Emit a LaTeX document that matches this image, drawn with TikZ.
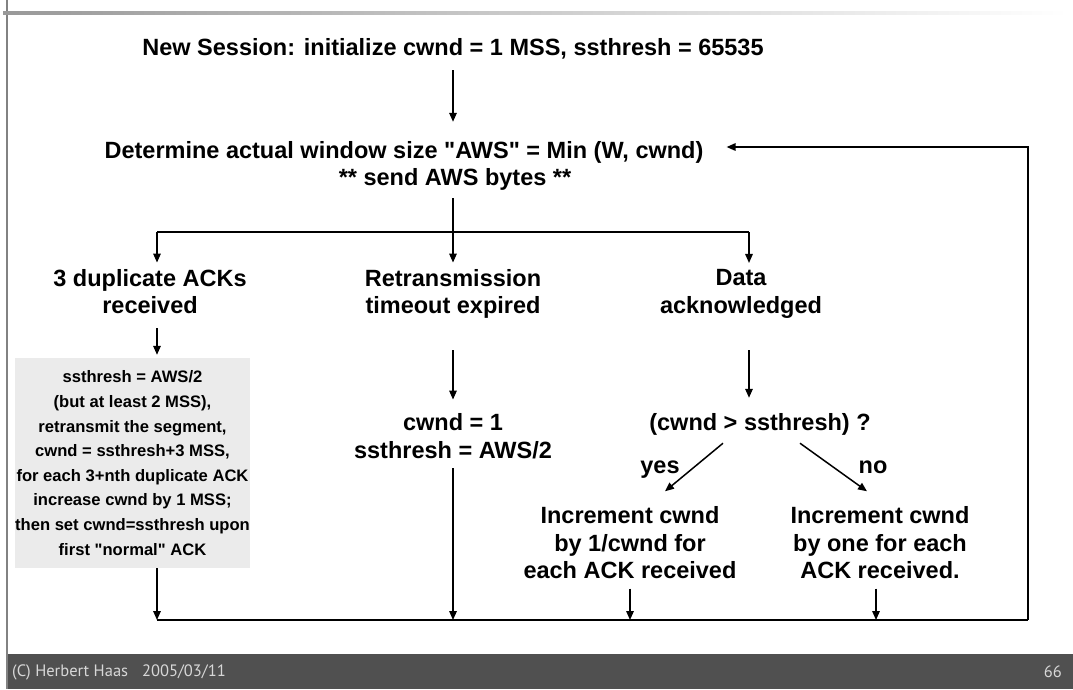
\documentclass[tikz,border=0pt]{standalone}
\usepackage{fontspec}
\newfontfamily\mainsans{Liberation Sans}
\newfontfamily\footsans{PT Sans}
\usetikzlibrary{arrows.meta}
\definecolor{boxgray}{RGB}{235,235,235}
\definecolor{footbar}{RGB}{80,80,80}
\definecolor{foottext}{RGB}{215,215,215}
\definecolor{rulegray}{RGB}{130,130,130}
\begin{document}
\begin{tikzpicture}[x=1pt,y=-1pt,
  line/.style={draw=black,line width=1.5pt},
  flow/.style={line,-{Triangle[length=9pt,width=7.5pt]}},
  lbl/.style={font=\mainsans\bfseries\fontsize{23.5}{27.5}\selectfont,align=center,inner sep=0pt,
    execute at begin node={\rule{0pt}{17pt}},execute at end node={\rule[-5pt]{0pt}{5pt}}},
  boxtxt/.style={fill=boxgray,font=\mainsans\bfseries\fontsize{16.6}{24.6}\selectfont,align=center,
    inner sep=0pt,minimum width=235pt,minimum height=210pt},
  foot/.style={font=\footsans\fontsize{16.5}{18}\selectfont,text=foottext,inner sep=0pt}]
\useasboundingbox (0,0) rectangle (1073,689);
\fill[white] (0,0) rectangle (1073,689);

% slide frame: left rule, title gradient bar, footer bar
\draw[rulegray,line width=1.2pt] (7,0) -- (7,689);
\shade[left color=black!40,right color=white] (3,11) rectangle (1068,14.5);
\fill[footbar] (8,654) rectangle (1073,689);
\node[foot,anchor=west] (author) at (12,672) {(C) Herbert Haas\hspace{14pt}2005/03/11};
\node[foot,anchor=east] (page) at (1062,672) {66};

% start and window computation
\node[lbl] (start) at (453,49.4) {New Session: initialize cwnd = 1 MSS, ssthresh = 65535};
\node[lbl] (det1) at (404,152.4) {Determine actual window size "AWS" = Min (W, cwnd)};
\node[lbl] (det2) at (455,179.4) {** send AWS bytes **};

% three events
\node[lbl] (dup) at (150,294) {3 duplicate ACKs\\received};
\node[lbl] (retx) at (453,294) {Retransmission\\timeout expired};
\node[lbl] (ack) at (741,294) {Data\\acknowledged};

% reactions
\node[boxtxt] (fr) at (132.5,463) {ssthresh = AWS/2\\(but at least 2 MSS),\\retransmit the segment,\\cwnd = ssthresh+3 MSS,\\for each 3+nth duplicate ACK\\increase cwnd by 1 MSS;\\then set cwnd=ssthresh upon\\first "normal" ACK};
\node[lbl] (ss) at (453,438.5) {cwnd = 1\\ssthresh = AWS/2};
\node[lbl] (cmp) at (760,424.4) {(cwnd > ssthresh) ?};
\node[lbl] (yes) at (660,467.4) {yes};
\node[lbl] (no) at (873,467.4) {no};
\node[lbl] (ca) at (630,545.4) {Increment cwnd\\by 1/cwnd for\\each ACK received};
\node[lbl] (sst) at (880,545.4) {Increment cwnd\\by one for each\\ACK received.};

% routing points
\coordinate (split) at (453,232);
\coordinate (c1) at (157,232);
\coordinate (c3) at (749,232);
\coordinate (bl) at (157,620);
\coordinate (br) at (1028,620);

% main chain
\draw[flow,shorten <=9.6pt,shorten >=19.4pt] (start.south) -- (start.south |- det1.north);
\draw[line,shorten <=7.6pt] (det2.south -| split) -- (split);
\draw[line] (c1) -- (c3);
\draw[flow,shorten >=6.5pt] (c1) -- (c1 |- dup.north);
\draw[flow,shorten >=6.5pt] (split) -- (retx.north);
\draw[flow,shorten >=6.5pt] (c3) -- (c3 |- ack.north);

% event reactions
\draw[flow,shorten <=9.5pt,shorten >=3pt] (c1 |- dup.south) -- (c1 |- fr.north);
\draw[flow,shorten <=31.5pt,shorten >=14pt] (retx.south) -- (ss.north);
\draw[flow,shorten <=31.5pt,shorten >=15.4pt] (c3 |- ack.south) -- (c3 |- cmp.north);
\draw[flow] ([shift={(-37,7.6)}]cmp.south) -- ([shift={(35,-15.4)}]ca.north);
\draw[flow] ([shift={(40,7.6)}]cmp.south) -- ([shift={(-13,-15.4)}]sst.north);

% back to the window computation
\draw[flow] (c1 |- fr.south) -- (bl);
\draw[flow,shorten <=5pt] (ss.south) -- (ss.south |- bl);
\draw[flow,shorten <=4.6pt] (ca.south) -- (ca.south |- bl);
\draw[flow,shorten <=4.6pt] ([xshift=-4pt]sst.south) -- ([xshift=-4pt]sst.south |- bl);
\draw[line] (bl) -- (br);
\draw[flow,shorten >=23pt] (br) |- ([yshift=5.4pt]det1.east);
\end{tikzpicture}
\end{document}
